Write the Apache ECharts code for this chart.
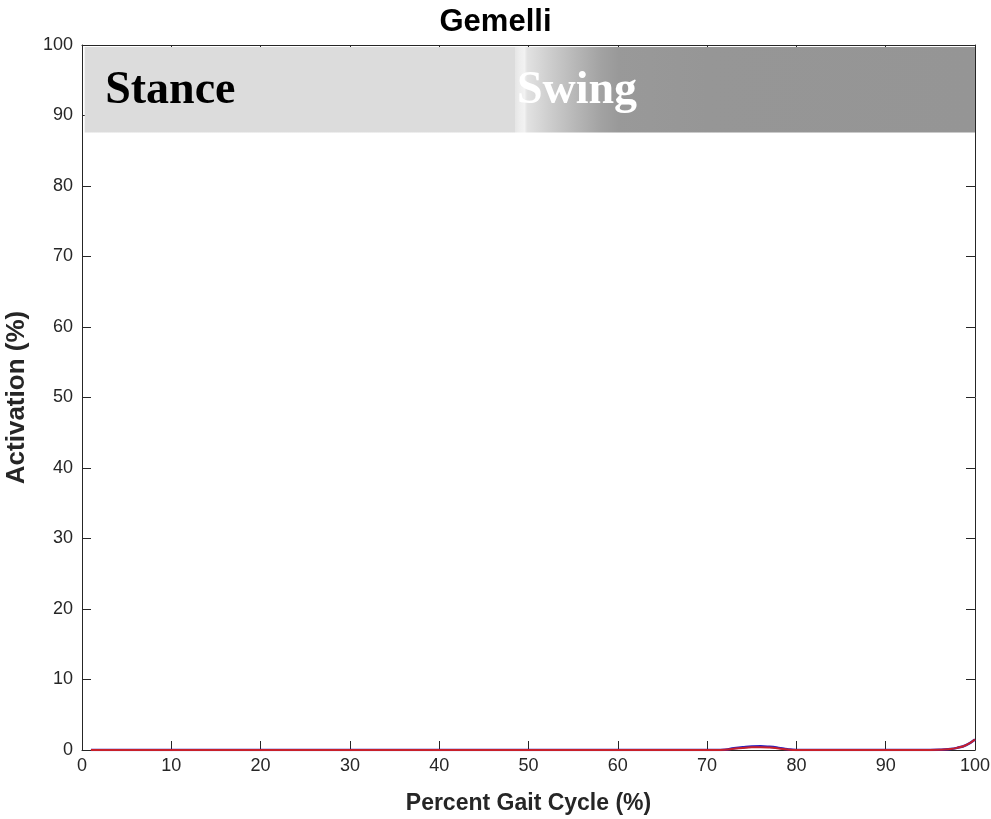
<!DOCTYPE html>
<html><head><meta charset="utf-8">
<script src="https://cdn.jsdelivr.net/npm/echarts@6/dist/echarts.min.js"></script>
<style>html,body{margin:0;padding:0;background:#fff}#c{width:991px;height:819px}</style>
</head><body><div id="c"></div>
<script>
const title = 'Gemelli';
const xName = 'Percent Gait Cycle (%)';
const yName = 'Activation (%)';
const xTicks = [0,10,20,30,40,50,60,70,80,90,100];
const yTicks = [0,10,20,30,40,50,60,70,80,90,100];
const phaseLabels = ['Stance','Swing'];
const phaseLabelX = [2.6, 48.7];
const phaseLabelY = 93.4;
const bandX = [0.3, 100];
const bandY = [87.6, 99.7];
const gaitX = [1,10,20,30,40,50,60,70,71,72,73,74,75,76,77,78,79,80,85,90,94,95,96,97,98,99,100];
const meanA = [0,0,0,0,0,0,0,0,0,0.05,0.25,0.4,0.5,0.52,0.45,0.3,0.1,0,0,0,0,0,0.02,0.1,0.3,0.7,1.5];
const meanB = [0,0,0,0,0,0,0,0,0,0.03,0.18,0.3,0.38,0.4,0.35,0.22,0.07,0,0,0,0,0,0.02,0.1,0.3,0.7,1.5];

const axisColor = '#262626';
const font = '"Liberation Sans", Arial, Helvetica, sans-serif';
const chart = echarts.init(document.getElementById('c'));
const pairs = (xs, ys) => xs.map((x,i)=>[x, ys[i]]);
chart.setOption({
  animation:false,
  title:{text:title,left:'center',top:2,textStyle:{fontFamily:font,fontSize:31,fontWeight:'bold',color:'#000'}},
  grid:{left:82,right:16,top:45,bottom:69,containLabel:false,outerBoundsMode:'none'},
  xAxis:[{type:'value',min:0,max:100,interval:10,name:xName,nameLocation:'middle',nameGap:42,
    nameTextStyle:{fontFamily:font,fontSize:23,fontWeight:'bold',color:axisColor},
    axisLine:{onZero:false,lineStyle:{color:axisColor,width:1}},axisTick:{inside:true,length:9,lineStyle:{color:axisColor}},
    axisLabel:{fontFamily:font,fontSize:18,color:axisColor,margin:7},splitLine:{show:false}},
   {type:'value',position:'top',min:0,max:100,interval:10,axisLine:{onZero:false,lineStyle:{color:axisColor}},
    axisTick:{inside:true,length:9,lineStyle:{color:axisColor}},axisLabel:{show:false},splitLine:{show:false}}],
  yAxis:[{type:'value',min:0,max:100,interval:10,name:yName,nameLocation:'middle',nameGap:52,
    nameTextStyle:{fontFamily:font,fontSize:26,fontWeight:'bold',color:axisColor},
    axisLine:{onZero:false,show:true,lineStyle:{color:axisColor}},axisTick:{show:true,inside:true,length:9,lineStyle:{color:axisColor}},
    axisLabel:{fontFamily:font,fontSize:18,color:axisColor,margin:9},splitLine:{show:false}},
   {type:'value',position:'right',min:0,max:100,interval:10,axisLine:{onZero:false,show:true,lineStyle:{color:axisColor}},
    axisTick:{show:true,inside:true,length:9,lineStyle:{color:axisColor}},axisLabel:{show:false},splitLine:{show:false}}],
  series:[
    {type:'line',data:[],markArea:{silent:true,itemStyle:{opacity:1,color:{type:'linear',x:0,y:0,x2:1,y2:0,colorStops:[
      {offset:0,color:'#dcdcdc'},{offset:0.483,color:'#dcdcdc'},{offset:0.4835,color:'#e6e6e6'},
      {offset:0.489,color:'#eeeeee'},{offset:0.494,color:'#f2f2f2'},{offset:0.497,color:'#e2e2e2'},
      {offset:0.52,color:'#cfcfcf'},{offset:0.55,color:'#b8b8b8'},{offset:0.58,color:'#a2a2a2'},
      {offset:0.60,color:'#999999'},{offset:0.70,color:'#969696'},{offset:1,color:'#959595'}]}},
      data:[[{coord:[bandX[0],bandY[0]]},{coord:[bandX[1],bandY[1]]}]]}},
    {type:'scatter',symbolSize:0,silent:true,z:5,itemStyle:{opacity:1},
      data:phaseLabels.map((t,i)=>({value:[phaseLabelX[i],phaseLabelY],name:t,
        label:{show:true,position:'right',distance:0,formatter:'{b}',opacity:1,fontFamily:'"Liberation Serif","Times New Roman",serif',
          fontWeight:'bold',fontSize:46,color:i===0?'#000':'#fff'}}))},
    {type:'line',data:pairs(gaitX,meanA),smooth:true,showSymbol:false,lineStyle:{color:'#2a1fc0',width:2.5},z:3},
    {type:'line',data:pairs(gaitX,meanB),smooth:true,showSymbol:false,lineStyle:{color:'#c8202a',width:2},z:4}
  ]
});
</script></body></html>
